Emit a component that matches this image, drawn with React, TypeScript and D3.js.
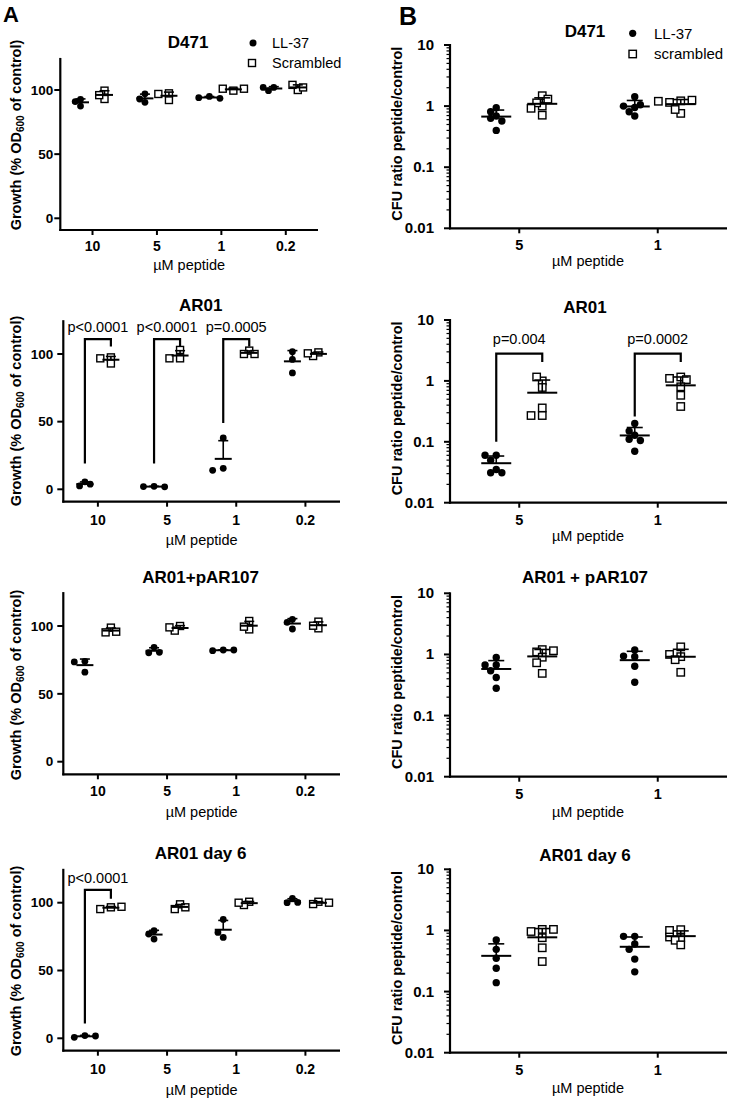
import React from "react";
import * as d3 from "d3";

const FONT = "'Liberation Sans', Arial, Helvetica, sans-serif";

// ---------------- data ----------------
const concA = ["10", "5", "1", "0.2"];
const concB = ["5", "1"];
const legendA = ["LL-37", "Scrambled"];
const legendB = ["LL-37", "scrambled"];
const titlesA = ["D471", "AR01", "AR01+pAR107", "AR01 day 6"];
const titlesB = ["D471", "AR01", "AR01 + pAR107", "AR01 day 6"];
const yTicksA = [0, 50, 100];
const yTicksB = [0.01, 0.1, 1, 10];
const yTickLabelsB = ["0.01", "0.1", "1", "10"];

// Panel A: growth (% OD600 of control), 3 replicates per concentration
const d471LL = [[92.7, 87.5, 91], [97, 90.4, 93], [95, 94, 93.5], [102, 99.5, 102]];
const d471Scr = [[93, 99.5, 96], [92.2, 97.4, 96.9], [99.5, 101, 101], [100, 104, 102]];
const ar01LL = [[5.5, 2.5, 3.8], [2.2, 2, 1.8], [38, 15.5, 14], [101.7, 96, 86]];
const ar01Scr = [[97.5, 93, 96.8], [103, 96.8, 96.8], [102.5, 100, 100], [101.2, 98.5, 100.5]];
const pARLL = [[74, 73.5, 66], [84.3, 80.3, 80.6], [82.3, 81.8, 82.3], [104.9, 97.8, 102.7]];
const pARScr = [[98.8, 95.3, 95.8], [100, 96.6, 99], [103.7, 97.5, 99.5], [103.2, 98.3, 100.2]];
const day6LL = [[2, 0.7, 1.7], [79.4, 73.2, 76.9], [74.4, 78.1, 87.7], [103.2, 100, 100.2]];
const day6Scr = [[96.6, 95.3, 97], [98.8, 95.3, 96.6], [100.7, 98.3, 100], [100.7, 99, 100]];

// Panel B: CFU ratio peptide/control
const bD471LL = [[0.94, 0.81, 0.69, 0.63, 0.57, 0.4], [1.42, 0.95, 1.0, 1.05, 0.81, 0.69]];
const bD471Scr = [[1.0, 1.48, 0.71, 1.13, 1.3, 0.92], [1.22, 1.15, 1.25, 1.2, 0.76, 0.88]];
const bAR01LL = [[0.06, 0.06, 0.05, 0.035, 0.031, 0.031], [0.2, 0.128, 0.15, 0.11, 0.105, 0.07]];
const bAR01Scr = [[1.0, 1.16, 0.78, 0.36, 0.27, 0.27], [1.16, 1.1, 1.05, 0.8, 0.58, 0.38]];
const bPARLL = [[0.67, 0.89, 0.67, 0.54, 0.42, 0.28], [1.18, 0.92, 0.94, 0.64, 0.35]];
const bPARScr = [[1.2, 1.1, 1.15, 0.9, 0.73, 0.49], [1.33, 0.92, 1.0, 0.82, 0.51]];
const bDay6LL = [[0.7, 0.49, 0.35, 0.24, 0.14], [0.8, 0.8, 0.6, 0.49, 0.34, 0.21]];
const bDay6Scr = [[1.04, 0.96, 1.04, 0.76, 0.52, 0.31], [1.03, 1.0, 0.76, 0.78, 0.69, 0.58]];

// significance brackets: group, left-leg bottom, top, right-leg bottom, label (data units)
const ar01Brackets = [
  { group: "10", from: 19, top: 111, to: 105.5, label: "p<0.0001" },
  { group: "5", from: 19, top: 111, to: 105.5, label: "p<0.0001" },
  { group: "1", from: 49, top: 111, to: 105.5, label: "p=0.0005" },
];
const day6Brackets = [{ group: "10", from: 11, top: 109.5, to: 103, label: "p<0.0001" }];
const bAR01Brackets = [
  { group: "5", from: 0.1, top: 2.8, to: 2.05, label: "p=0.004" },
  { group: "1", from: 0.26, top: 2.8, to: 2.05, label: "p=0.0002" },
];

type Bracket = { group: string; from: number; top: number; to: number; label: string };

const panelsA = [
  { title: titlesA[0], ll: d471LL, scr: d471Scr, brackets: [] as Bracket[], legend: true },
  { title: titlesA[1], ll: ar01LL, scr: ar01Scr, brackets: ar01Brackets, legend: false },
  { title: titlesA[2], ll: pARLL, scr: pARScr, brackets: [] as Bracket[], legend: false },
  { title: titlesA[3], ll: day6LL, scr: day6Scr, brackets: day6Brackets, legend: false },
];
const panelsB = [
  { title: titlesB[0], ll: bD471LL, scr: bD471Scr, brackets: [] as Bracket[], legend: true },
  { title: titlesB[1], ll: bAR01LL, scr: bAR01Scr, brackets: bAR01Brackets, legend: false },
  { title: titlesB[2], ll: bPARLL, scr: bPARScr, brackets: [] as Bracket[], legend: false },
  { title: titlesB[3], ll: bDay6LL, scr: bDay6Scr, brackets: [] as Bracket[], legend: false },
];

// ---------------- layout ----------------
const layA = [
  { x0: 60.3, x1: 318, y0: 218.3, y100: 90, axisY: 230, titleY: 48, tickY: 251, xTitleY: 270, yLabY: 135, off: 12, lblGap: 7 },
  { x0: 63.3, x1: 340, y0: 489.3, y100: 354, axisY: 501.7, titleY: 311, tickY: 525, xTitleY: 545, yLabY: 411, off: 13, lblGap: 10 },
  { x0: 63.3, x1: 340, y0: 761.7, y100: 626, axisY: 774.3, titleY: 582.7, tickY: 796, xTitleY: 817, yLabY: 685, off: 13, lblGap: 10 },
  { x0: 63.3, x1: 340, y0: 1038.3, y100: 902.7, axisY: 1050.7, titleY: 859.3, tickY: 1074, xTitleY: 1095, yLabY: 961, off: 13, lblGap: 10 },
];
const layB = [
  { x0: 450, x1: 727, y001: 228.3, y10: 45, titleY: 37.3, tickY: 250, xTitleY: 266, off: 23 },
  { x0: 450, x1: 727, y001: 502.7, y10: 320, titleY: 312.7, tickY: 525, xTitleY: 541, off: 23 },
  { x0: 450, x1: 727, y001: 776.7, y10: 593.3, titleY: 583.3, tickY: 799, xTitleY: 817, off: 23 },
  { x0: 450, x1: 727, y001: 1052.7, y10: 869.3, titleY: 861, tickY: 1075, xTitleY: 1093, off: 23 },
];

function swarm(vals: number[], yf: (v: number) => number, step: number, minD: number) {
  const placed: { dx: number; y: number }[] = [];
  return vals.map((v) => {
    const yy = yf(v);
    for (let k = 0; k < 14; k++) {
      const m = k === 0 ? 0 : k % 2 === 1 ? -Math.ceil(k / 2) : Math.ceil(k / 2);
      const dx = m * step;
      if (placed.every((p) => Math.hypot(p.dx - dx, p.y - yy) >= minD)) {
        placed.push({ dx, y: yy });
        return { dx, y: yy };
      }
    }
    placed.push({ dx: 0, y: yy });
    return { dx: 0, y: yy };
  });
}

function Group({ vals, cx, yf, filled, r, step, meanW, capW }: any) {
  const pts = swarm(vals, yf, step, step * 1.08);
  const m = d3.mean(vals) as number;
  const sd = vals.length > 1 ? (d3.deviation(vals) as number) : 0;
  const ym = yf(m);
  const yu = yf(m + sd);
  return (
    <g>
      {pts.map((p, i) =>
        filled ? (
          <circle key={i} cx={cx + p.dx} cy={p.y} r={r} fill="#000" />
        ) : (
          <rect key={i} x={cx + p.dx - r} y={p.y - r} width={r * 2} height={r * 2} fill="#fff" stroke="#000" strokeWidth={1.4} />
        )
      )}
      <line x1={cx - meanW / 2} x2={cx + meanW / 2} y1={ym} y2={ym} stroke="#000" strokeWidth={2} />
      <line x1={cx} x2={cx} y1={ym} y2={yu} stroke="#000" strokeWidth={1.6} />
      <line x1={cx - capW / 2} x2={cx + capW / 2} y1={yu} y2={yu} stroke="#000" strokeWidth={1.6} />
    </g>
  );
}

function PanelA({ p, L }: any) {
  const x = d3.scaleBand().domain(concA).range([L.x0, L.x1]);
  const y = d3.scaleLinear().domain([0, 100]).range([L.y0, L.y100]);
  const bw = x.bandwidth();
  const c = (g: string) => (x(g) as number) + bw / 2;
  const cxMid = (L.x0 + L.x1) / 2;
  return (
    <g fontFamily={FONT}>
      {/* axes */}
      <line x1={L.x0} x2={L.x0} y1={L.axisY + 1} y2={y(125)} stroke="#000" strokeWidth={2.2} />
      <line x1={L.x0 - 1} x2={L.x1} y1={L.axisY} y2={L.axisY} stroke="#000" strokeWidth={2.2} />
      {yTicksA.map((t) => (
        <g key={t}>
          <line x1={L.x0 - 6} x2={L.x0} y1={y(t)} y2={y(t)} stroke="#000" strokeWidth={2} />
          <text x={L.x0 - L.lblGap} y={y(t) + 4.7} textAnchor="end" fontSize={13.5} fontWeight="bold">{t}</text>
        </g>
      ))}
      {concA.map((g) => (
        <g key={g}>
          <line x1={c(g)} x2={c(g)} y1={L.axisY} y2={L.axisY + 5} stroke="#000" strokeWidth={2} />
          <text x={c(g)} y={L.tickY} textAnchor="middle" fontSize={14} fontWeight="bold">{g}</text>
        </g>
      ))}
      <text x={cxMid} y={L.xTitleY} textAnchor="middle" fontSize={14.5}>µM peptide</text>
      <text transform={`translate(20.5,${L.yLabY}) rotate(-90)`} textAnchor="middle" fontSize={14.5} fontWeight="bold">
        Growth (% OD<tspan fontSize={10} dy={3.5}>600</tspan><tspan dy={-3.5}> of control)</tspan>
      </text>
      <text x={cxMid - 1} y={L.titleY} textAnchor="middle" fontSize={17} fontWeight="bold">{p.title}</text>
      {/* data */}
      {concA.map((g, i) => (
        <g key={g}>
          <Group vals={p.ll[i]} cx={c(g) - L.off} yf={y} filled r={3.4} step={5.3} meanW={17} capW={10} />
          <Group vals={p.scr[i]} cx={c(g) + L.off} yf={y} filled={false} r={3.5} step={5.3} meanW={17} capW={10} />
        </g>
      ))}
      {p.brackets.map((b: Bracket) => {
        const xl = c(b.group) - L.off;
        const xr = c(b.group) + L.off;
        return (
          <g key={b.group}>
            <path d={`M${xl},${y(b.from)}V${y(b.top)}H${xr}V${y(b.to)}`} fill="none" stroke="#000" strokeWidth={2.2} />
            <text x={(xl + xr) / 2} y={y(b.top) - 7} textAnchor="middle" fontSize={14.5}>{b.label}</text>
          </g>
        );
      })}
      {p.legend && (
        <g>
          <circle cx={253} cy={43} r={3.5} fill="#000" />
          <text x={272} y={48} fontSize={14.5}>{legendA[0]}</text>
          <rect x={248.5} y={59.5} width={7} height={7} fill="#fff" stroke="#000" strokeWidth={1.4} />
          <text x={272} y={68} fontSize={14.5}>{legendA[1]}</text>
        </g>
      )}
    </g>
  );
}

function PanelB({ p, L }: any) {
  const x = d3.scaleBand().domain(concB).range([L.x0, L.x1]);
  const y = d3.scaleLog().domain([0.01, 10]).range([L.y001, L.y10]);
  const bw = x.bandwidth();
  const c = (g: string) => (x(g) as number) + bw / 2;
  const minor: number[] = [];
  [0.01, 0.1, 1].forEach((k) => {
    for (let m = 2; m <= 9; m++) minor.push(k * m);
  });
  const cxMid = 585;
  const yMid = (L.y001 + L.y10) / 2 - 3;
  return (
    <g fontFamily={FONT}>
      <line x1={L.x0} x2={L.x0} y1={L.y001 + 1} y2={L.y10 - 1} stroke="#000" strokeWidth={2.2} />
      <line x1={L.x0 - 1} x2={L.x1} y1={L.y001} y2={L.y001} stroke="#000" strokeWidth={2.2} />
      {minor.map((t, i) => (
        <line key={i} x1={L.x0 - 3.5} x2={L.x0} y1={y(t)} y2={y(t)} stroke="#000" strokeWidth={1.2} />
      ))}
      {yTicksB.map((t, i) => (
        <g key={t}>
          <line x1={L.x0 - 6} x2={L.x0} y1={y(t)} y2={y(t)} stroke="#000" strokeWidth={2} />
          <text x={L.x0 - 16} y={y(t) + 5} textAnchor="end" fontSize={15} fontWeight="bold">{yTickLabelsB[i]}</text>
        </g>
      ))}
      {concB.map((g) => (
        <g key={g}>
          <line x1={c(g)} x2={c(g)} y1={L.y001} y2={L.y001 + 5} stroke="#000" strokeWidth={2} />
          <text x={c(g)} y={L.tickY} textAnchor="middle" fontSize={14.5} fontWeight="bold">{g}</text>
        </g>
      ))}
      <text x={cxMid + 3} y={L.xTitleY} textAnchor="middle" fontSize={14.5}>µM peptide</text>
      <text transform={`translate(401.5,${yMid}) rotate(-90)`} textAnchor="middle" fontSize={14.5} fontWeight="bold">
        CFU ratio peptide/control
      </text>
      <text x={cxMid} y={L.titleY} textAnchor="middle" fontSize={17} fontWeight="bold">{p.title}</text>
      {concB.map((g, i) => (
        <g key={g}>
          <Group vals={p.ll[i]} cx={c(g) - L.off} yf={y} filled r={3.7} step={5.6} meanW={30} capW={16} />
          <Group vals={p.scr[i]} cx={c(g) + L.off} yf={y} filled={false} r={3.7} step={5.6} meanW={30} capW={16} />
        </g>
      ))}
      {p.brackets.map((b: Bracket) => {
        const xl = c(b.group) - L.off;
        const xr = c(b.group) + L.off;
        return (
          <g key={b.group}>
            <path d={`M${xl},${y(b.from)}V${y(b.top)}H${xr}V${y(b.to)}`} fill="none" stroke="#000" strokeWidth={2.2} />
            <text x={(xl + xr) / 2} y={y(b.top) - 10} textAnchor="middle" fontSize={14.5}>{b.label}</text>
          </g>
        );
      })}
      {p.legend && (
        <g>
          <circle cx={632.7} cy={33.3} r={3.6} fill="#000" />
          <text x={654} y={38.5} fontSize={15}>{legendB[0]}</text>
          <rect x={629} y={50.3} width={7.4} height={7.4} fill="#fff" stroke="#000" strokeWidth={1.4} />
          <text x={654} y={59} fontSize={15}>{legendB[1]}</text>
        </g>
      )}
    </g>
  );
}

export default function App() {
  return (
    <svg
      width={732}
      height={1102}
      viewBox="0 0 732 1102"
      style={{ position: "absolute", left: 0, top: 0, display: "block", background: "#fff" }}
    >
      <rect width={732} height={1102} fill="#fff" />
      <text x={3} y={22} fontFamily={FONT} fontSize={22} fontWeight="bold">A</text>
      <text x={399} y={25} fontFamily={FONT} fontSize={25} fontWeight="bold">B</text>
      {panelsA.map((p, i) => (
        <PanelA key={"a" + i} p={p} L={layA[i]} />
      ))}
      {panelsB.map((p, i) => (
        <PanelB key={"b" + i} p={p} L={layB[i]} />
      ))}
    </svg>
  );
}
